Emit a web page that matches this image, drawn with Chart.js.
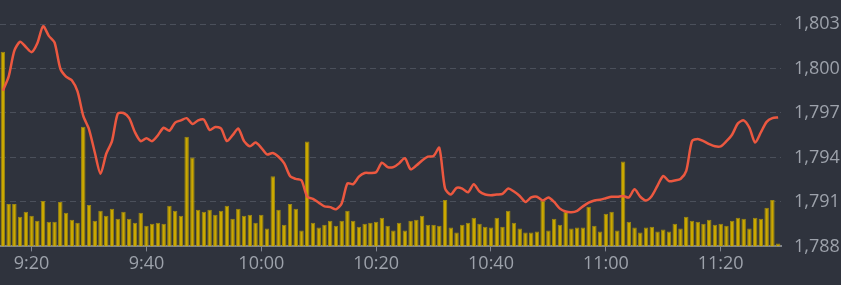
<!DOCTYPE html>
<html>
<head>
<meta charset="utf-8">
<script src="https://cdn.jsdelivr.net/npm/chart.js@4"></script>
<style>
  body { margin: 0; background: #2f333d; }
  #wrap { width: 841px; height: 285px; }
</style>
</head>
<body>
<div id="wrap"><canvas id="myChart"></canvas></div>
<script>
// price per minute, 9:15 .. 11:30
const price = [
  1798.5, 1799.45, 1801.2, 1801.8, 1801.45, 1801.1, 1801.7, 1802.85, 1802.2, 1801.75,
  1800.0, 1799.45, 1799.2, 1798.45, 1796.8, 1795.9, 1794.35, 1792.9, 1794.25, 1795.1,
  1796.95, 1797.0, 1796.65, 1795.7, 1795.1, 1795.3, 1795.1, 1795.5, 1796.0, 1795.8,
  1796.35, 1796.5, 1796.65, 1796.25, 1796.5, 1796.55, 1795.85, 1796.05, 1795.95, 1795.1,
  1795.5, 1795.95, 1795.1, 1794.75, 1795.0, 1794.65, 1794.2, 1794.3, 1794.05, 1793.6,
  1792.75, 1792.55, 1792.45, 1791.35, 1791.2, 1790.95, 1790.7, 1790.65, 1790.5, 1790.9,
  1792.25, 1792.2, 1792.7, 1792.95, 1792.95, 1793.0, 1793.65, 1793.35, 1793.35, 1793.6,
  1793.95, 1793.2, 1793.45, 1793.8, 1794.05, 1794.1, 1794.65, 1791.9, 1791.5, 1791.95,
  1791.9, 1791.65, 1792.2, 1791.7, 1791.5, 1791.45, 1791.5, 1791.55, 1791.9, 1791.7,
  1791.4, 1791.0, 1791.3, 1791.35, 1791.1, 1791.3, 1791.0, 1790.55, 1790.35, 1790.3,
  1790.4, 1790.7, 1790.95, 1791.1, 1791.15, 1791.25, 1791.35, 1791.35, 1791.4, 1791.3,
  1791.85, 1791.35, 1791.1, 1791.4, 1792.1, 1792.75, 1792.4, 1792.45, 1792.55, 1793.1,
  1795.1, 1795.25, 1795.1, 1794.9, 1794.75, 1794.75, 1795.1, 1795.55, 1796.3, 1796.5,
  1796.0, 1795.0, 1795.7, 1796.4, 1796.65, 1796.7
];

// volume per minute
const volume = [
  197, 43, 43, 30, 35, 31, 26, 46, 25, 25,
  45, 34, 27, 24, 121, 42, 26, 36, 31, 38,
  28, 35, 28, 24, 34, 21, 23, 24, 23, 41,
  36, 31, 111, 90, 37, 35, 37, 32, 36, 41,
  28, 38, 31, 32, 24, 32, 18, 71, 37, 22,
  43, 38, 16, 106, 24, 19, 22, 26, 21, 26,
  36, 26, 20, 23, 24, 25, 29, 21, 16, 24,
  16, 26, 27, 31, 22, 22, 21, 47, 19, 14,
  22, 24, 29, 23, 20, 19, 29, 20, 36, 24,
  18, 14, 14, 15, 46, 16, 28, 22, 35, 18,
  19, 19, 40, 21, 15, 33, 35, 16, 86, 25,
  19, 14, 19, 20, 15, 17, 15, 23, 18, 30,
  26, 25, 23, 27, 22, 23, 21, 26, 29, 28,
  18, 29, 28, 39, 47, 3
];

const yTicks = [1788, 1791, 1794, 1797, 1800, 1803];

// minute labels 9:15 .. 11:30
const times = [];
for (let m = 9 * 60 + 15; m <= 11 * 60 + 30; m++) {
  const mm = m % 60;
  times.push(Math.floor(m / 60) + ':' + (mm < 10 ? '0' + mm : mm));
}

const txt = '#9da2ab';
const font = { family: 'Open Sans', size: 18 };

const ctx = document.getElementById('myChart').getContext('2d');
const chart = new Chart(ctx, {
  type: 'bar',
  data: {
    labels: times,
    datasets: [
      {
        type: 'line',
        label: 'Price',
        data: price,
        yAxisID: 'y',
        borderColor: '#ec5840',
        borderWidth: 2.5,
        pointRadius: 0,
        tension: 0.25,
        borderJoinStyle: 'round',
        order: 0
      },
      {
        label: 'Volume',
        data: volume,
        yAxisID: 'vol',
        backgroundColor: '#cba800',
        borderColor: '#9a8712',
        borderWidth: 1,
        categoryPercentage: 1,
        barPercentage: 0.78,
        order: 1
      }
    ]
  },
  options: {
    responsive: true,
    maintainAspectRatio: false,
    animation: false,
    layout: { padding: { top: 24, right: 0, bottom: 8, left: 0 } },
    plugins: {
      legend: { display: false },
      tooltip: { enabled: false }
    },
    scales: {
      x: {
        offset: true,
        grid: {
          offset: false,
          drawOnChartArea: false,
          color: '#80858f',
          tickLength: 5
        },
        border: { color: '#80858f', width: 2 },
        ticks: {
          autoSkip: false,
          maxRotation: 0,
          padding: 2,
          color: txt,
          font: font,
          callback: function (val, i) {
            const t = times[i];
            return t.endsWith(':00') || t.endsWith(':20') || t.endsWith(':40') ? t : null;
          }
        }
      },
      y: {
        position: 'right',
        min: yTicks[0],
        max: yTicks[yTicks.length - 1],
        afterBuildTicks: function (axis) {
          axis.ticks = yTicks.map(v => ({ value: v }));
        },
        afterFit: function (axis) {
          axis.width = 60;
        },
        grid: {
          color: '#4b505b',
          lineWidth: 1,
          drawTicks: false
        },
        border: { display: false, dash: [6, 4] },
        ticks: {
          padding: 13,
          color: txt,
          font: font,
          callback: v => v.toLocaleString('en-US')
        }
      },
      vol: {
        display: false,
        min: 0,
        max: 225
      }
    }
  }
});
</script>
</body>
</html>
